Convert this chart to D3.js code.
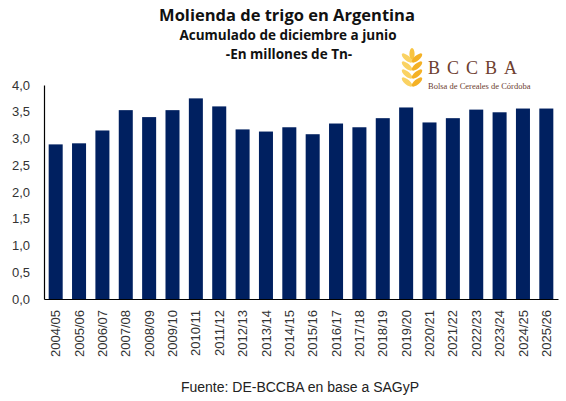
<!DOCTYPE html>
<html>
<head>
<meta charset="utf-8">
<script src="https://cdn.jsdelivr.net/npm/d3@7"></script>
<style>
  body { margin: 0; background: #fff; }
  text { font-family: "Liberation Sans", Arial, sans-serif; }
  .title { font-family: "Open Sans", sans-serif; font-weight: 700; fill: #111; text-anchor: middle; }
  .logo-text { font-family: "Liberation Serif", "DejaVu Serif", serif; fill: #6E4030; }
</style>
</head>
<body>
<svg id="chart" width="566" height="401"></svg>
<script>
const campaigns = ["2004/05", "2005/06", "2006/07", "2007/08", "2008/09", "2009/10", "2010/11",
    "2011/12", "2012/13", "2013/14", "2014/15", "2015/16", "2016/17", "2017/18", "2018/19",
    "2019/20", "2020/21", "2021/22", "2022/23", "2023/24", "2024/25", "2025/26"];
const molienda = [2.89, 2.91, 3.15, 3.53, 3.40, 3.53, 3.75, 3.60, 3.17, 3.13, 3.21,
    3.08, 3.28, 3.21, 3.38, 3.58, 3.30, 3.38, 3.54, 3.49, 3.56, 3.56];
const yTicks = [0, 0.5, 1, 1.5, 2, 2.5, 3, 3.5, 4];

const margin = { top: 85, right: 8, bottom: 102, left: 44 },
    width = 566 - margin.left - margin.right,
    height = 401 - margin.top - margin.bottom;

const svg = d3.select("#chart");
const g = svg.append("g")
    .attr("transform", `translate(${margin.left},${margin.top})`);

const esFormat = d3.formatLocale({ decimal: ",", thousands: ".", grouping: [3], currency: ["$", ""] }).format(".1f");

const x = d3.scaleBand()
    .domain(campaigns)
    .range([0, width])
    .paddingInner(0.4)
    .paddingOuter(0.2);

const y = d3.scaleLinear()
    .domain([0, 4])
    .range([height, 0]);

g.selectAll("rect")
    .data(campaigns.map((c, i) => [c, molienda[i]]))
    .enter()
    .append("rect")
    .attr("x", d => x(d[0]))
    .attr("y", d => y(d[1]))
    .attr("width", x.bandwidth())
    .attr("height", d => height - y(d[1]))
    .attr("fill", "#002060");

// eje y
const yAxis = g.append("g")
    .call(d3.axisLeft(y).tickValues(yTicks).tickFormat(esFormat).tickSize(0).tickPadding(14));
yAxis.select(".domain").attr("stroke", "#000").attr("stroke-width", 1.2);
yAxis.selectAll("text").attr("font-size", 13).attr("fill", "#333");

// eje x
const xAxis = g.append("g")
    .attr("transform", `translate(0,${height})`)
    .call(d3.axisBottom(x).tickSize(0).tickSizeOuter(0));
xAxis.select(".domain").attr("stroke", "#000").attr("stroke-width", 1.2);
xAxis.selectAll("text")
    .attr("font-size", 13)
    .attr("fill", "#333")
    .attr("transform", "rotate(-90)")
    .attr("text-anchor", "end")
    .attr("x", -11)
    .attr("y", 0)
    .attr("dy", "0.35em");

// titulos
svg.append("text").attr("class", "title")
    .attr("x", 287).attr("y", 21)
    .attr("font-size", 16.5)
    .text("Molienda de trigo en Argentina");
svg.append("text").attr("class", "title")
    .attr("x", 288).attr("y", 40)
    .attr("font-size", 13.5)
    .text("Acumulado de diciembre a junio");
svg.append("text").attr("class", "title")
    .attr("x", 289).attr("y", 59)
    .attr("font-size", 13.5)
    .text("-En millones de Tn-");

svg.append("text")
    .attr("x", 300).attr("y", 392)
    .attr("text-anchor", "middle")
    .attr("font-size", 14)
    .attr("fill", "#222")
    .text("Fuente: DE-BCCBA en base a SAGyP");

// logo BCCBA
const logo = svg.append("g").attr("transform", "translate(412,48)");
logo.append("ellipse")
    .attr("cx", 0).attr("cy", 6).attr("rx", 2.6).attr("ry", 6)
    .attr("fill", "#F8C440");
[13, 21, 29, 37].forEach(ly => {
    logo.append("ellipse")
        .attr("rx", 6.5).attr("ry", 2.6)
        .attr("transform", `translate(-5,${ly - 3}) rotate(40)`)
        .attr("fill", "#FAD262");
    logo.append("ellipse")
        .attr("rx", 6.5).attr("ry", 2.6)
        .attr("transform", `translate(5,${ly - 3}) rotate(-40)`)
        .attr("fill", "#F4B125");
});

svg.append("text")
    .attr("class", "logo-text")
    .attr("x", 428).attr("y", 74)
    .attr("font-size", 18)
    .attr("letter-spacing", 7)
    .text("BCCBA");
svg.append("text")
    .attr("class", "logo-text")
    .attr("x", 428).attr("y", 89)
    .attr("font-size", 8.5)
    .text("Bolsa de Cereales de Córdoba");
</script>
</body>
</html>
